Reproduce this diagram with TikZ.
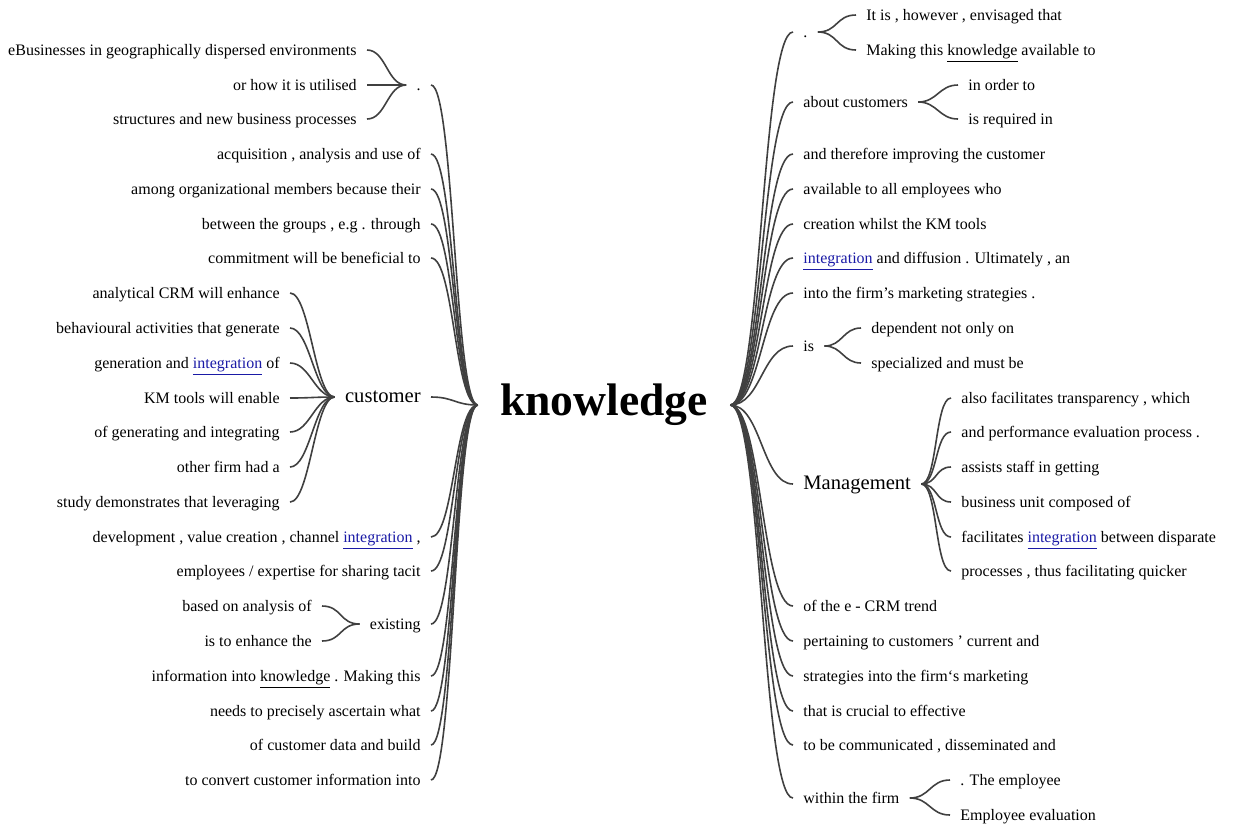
\documentclass[tikz,border=0pt]{standalone}
\usepackage{fontspec}
\setmainfont{Liberation Serif}
\definecolor{linkki}{HTML}{1A1AA6}
\newcommand\linkki[1]{\textcolor{linkki}{\underline{#1}}}
\begin{document}
\begin{tikzpicture}[x=0.5pt,y=-0.5pt,
  sana/.style={font=\fontsize{8}{10}\selectfont,text height=1.5ex,text depth=.4ex,inner ysep=0pt,inner xsep=5pt},
  iso/.style={font=\fontsize{10.3}{12}\selectfont},
  juuri/.style={font=\bfseries\fontsize{22.8}{27}\selectfont,inner xsep=11pt},
  viiva/.style={line width=0.8pt,draw=black!75}]
\newcommand\vasen[3]{\draw[viiva] (#1) .. controls +(-#3,0) and +(#3,0) .. (#2);}
\newcommand\oikea[3]{\draw[viiva] (#1) .. controls +(#3,0) and +(-#3,0) .. (#2);}
\useasboundingbox (0,0) rectangle (1233,827);
\node[juuri] (k) at (604,405) {knowledge};
\begin{scope}[every node/.append style={sana,anchor=east}]
\node (v1) at (431,85) {.};
\node (v1a) at (367,50) {eBusinesses in geographically dispersed environments};
\node (v1b) at (367,85) {or how it is utilised};
\node (v1c) at (367,119) {structures and new business processes};
\node (v2) at (431,154) {acquisition , analysis and use of};
\node (v3) at (431,189) {among organizational members because their};
\node (v4) at (431,224) {between the groups , e.g . through};
\node (v5) at (431,258) {commitment will be beneficial to};
\node[iso] (v6) at (431,397) {customer};
\node (v6a) at (290,293) {analytical CRM will enhance};
\node (v6b) at (290,328) {behavioural activities that generate};
\node (v6c) at (290,363) {generation and \linkki{integration} of};
\node (v6d) at (290,398) {KM tools will enable};
\node (v6e) at (290,432) {of generating and integrating};
\node (v6f) at (290,467) {other firm had a};
\node (v6g) at (290,502) {study demonstrates that leveraging};
\node (v7) at (431,537) {development , value creation , channel \linkki{integration} ,};
\node (v8) at (431,571) {employees / expertise for sharing tacit};
\node (v9) at (431,624) {existing};
\node (v9a) at (322,606) {based on analysis of};
\node (v9b) at (322,641) {is to enhance the};
\node (v10) at (431,676) {information into \underline{knowledge} . Making this};
\node (v11) at (431,711) {needs to precisely ascertain what};
\node (v12) at (431,745) {of customer data and build};
\node (v13) at (431,780) {to convert customer information into};
\end{scope}
\begin{scope}[every node/.append style={sana,anchor=west}]
\node (o1) at (793,32) {.};
\node (o1a) at (856,15) {It is , however , envisaged that};
\node (o1b) at (856,50) {Making this \underline{knowledge} available to};
\node (o2) at (793,102) {about customers};
\node (o2a) at (958,85) {in order to};
\node (o2b) at (958,119) {is required in};
\node (o3) at (793,154) {and therefore improving the customer};
\node (o4) at (793,189) {available to all employees who};
\node (o5) at (793,224) {creation whilst the KM tools};
\node (o6) at (793,258) {\linkki{integration} and diffusion . Ultimately , an};
\node (o7) at (793,293) {into the firm’s marketing strategies .};
\node (o8) at (793,346) {is};
\node (o8a) at (861,328) {dependent not only on};
\node (o8b) at (861,363) {specialized and must be};
\node[iso] (o9) at (793,484) {Management};
\node (o9a) at (951,398) {also facilitates transparency , which};
\node (o9b) at (951,432) {and performance evaluation process .};
\node (o9c) at (951,467) {assists staff in getting};
\node (o9d) at (951,502) {business unit composed of};
\node (o9e) at (951,537) {facilitates \linkki{integration} between disparate};
\node (o9f) at (951,571) {processes , thus facilitating quicker};
\node (o10) at (793,606) {of the e - CRM trend};
\node (o11) at (793,641) {pertaining to customers ’ current and};
\node (o12) at (793,676) {strategies into the firm‘s marketing};
\node (o13) at (793,711) {that is crucial to effective};
\node (o14) at (793,745) {to be communicated , disseminated and};
\node (o15) at (793,798) {within the firm};
\node (o15a) at (950,780) {. The employee};
\node (o15b) at (950,815) {Employee evaluation};
\end{scope}
\foreach \i in {1,...,13} \vasen{k.west}{v\i.east}{23};
\foreach \i in {1,...,15} \oikea{k.east}{o\i.west}{31};
\foreach \n in {a,b,c} \vasen{v1.west}{v1\n.east}{19};
\foreach \n in {a,...,g} \vasen{v6.west}{v6\n.east}{20};
\foreach \n in {a,b} \vasen{v9.west}{v9\n.east}{20};
\foreach \n in {a,b} \oikea{o1.east}{o1\n.west}{20};
\foreach \n in {a,b} \oikea{o2.east}{o2\n.west}{19};
\foreach \n in {a,b} \oikea{o8.east}{o8\n.west}{18};
\foreach \n in {a,...,f} \oikea{o9.east}{o9\n.west}{16};
\foreach \n in {a,b} \oikea{o15.east}{o15\n.west}{20};
\end{tikzpicture}
\end{document}
